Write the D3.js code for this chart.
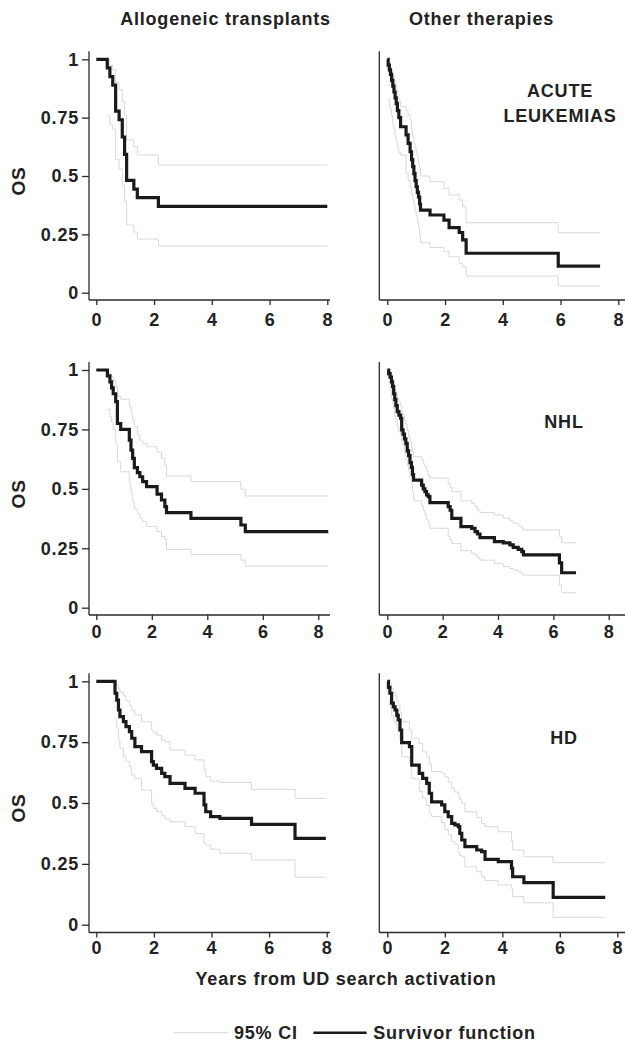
<!DOCTYPE html>
<html>
<head>
<meta charset="utf-8">
<script src="https://cdnjs.cloudflare.com/ajax/libs/d3/7.8.5/d3.min.js"></script>
<style>
    body { margin: 0; background: #ffffff; }
    text { font-family: "Liberation Sans", Arial, sans-serif; font-weight: bold; fill: #222222; letter-spacing: 0.8px; }
</style>
</head>
<body>
<div id="chart"></div>
<script>
// Kaplan-Meier steps (years, OS)
// acute leukemias - allogeneic transplants
var acuteAlloTime = [0, 0.38, 0.47, 0.57, 0.67, 0.79, 0.9, 0.98, 1.05, 1.3, 1.42, 2.15];
var acuteAlloSurv = [1, 0.963, 0.926, 0.889, 0.778, 0.741, 0.667, 0.593, 0.481, 0.444, 0.407, 0.37];
var acuteAlloLow  = [null, 0.76, 0.72, 0.70, 0.57, 0.53, 0.46, 0.39, 0.29, 0.26, 0.23, 0.20];
var acuteAlloHigh = [null, 0.995, 0.975, 0.955, 0.90, 0.87, 0.82, 0.76, 0.654, 0.626, 0.59, 0.547];
var acuteAlloEnd = 8.0;

// acute leukemias - other therapies
var acuteOtherTime = [0, 0.03, 0.07, 0.11, 0.15, 0.19, 0.23, 0.27, 0.31, 0.35, 0.40, 0.46, 0.65, 0.72, 0.79, 0.84, 0.88, 0.92, 0.96, 1.0, 1.04, 1.08, 1.12, 1.15, 1.48, 1.96, 2.14, 2.49, 2.61, 2.73, 5.92];
var acuteOtherSurv = [1, 0.975, 0.955, 0.935, 0.91, 0.885, 0.86, 0.835, 0.81, 0.78, 0.75, 0.711, 0.676, 0.64, 0.604, 0.57, 0.54, 0.51, 0.48, 0.454, 0.43, 0.41, 0.38, 0.354, 0.333, 0.311, 0.279, 0.258, 0.226, 0.169, 0.114];
var acuteOtherLow  = [null, 0.833, 0.80, 0.78, 0.76, 0.72, 0.70, 0.67, 0.65, 0.62, 0.60, 0.59, 0.511, 0.48, 0.454, 0.42, 0.40, 0.38, 0.35, 0.33, 0.30, 0.283, 0.25, 0.214, 0.194, 0.176, 0.154, 0.126, 0.111, 0.071, 0.029];
var acuteOtherHigh = [null, 0.995, 0.98, 0.965, 0.95, 0.93, 0.91, 0.89, 0.87, 0.85, 0.82, 0.797, 0.78, 0.761, 0.74, 0.70, 0.67, 0.64, 0.62, 0.60, 0.58, 0.554, 0.53, 0.50, 0.476, 0.447, 0.419, 0.397, 0.369, 0.30, 0.257];
var acuteOtherEnd = 7.37;

// NHL - allogeneic transplants
var nhlAlloTime = [0, 0.4, 0.49, 0.55, 0.61, 0.7, 0.76, 0.88, 1.19, 1.25, 1.31, 1.37, 1.48, 1.57, 1.67, 1.81, 2.19, 2.35, 2.47, 2.53, 3.41, 5.21, 5.37];
var nhlAlloSurv = [1, 0.975, 0.95, 0.925, 0.90, 0.867, 0.775, 0.75, 0.705, 0.663, 0.628, 0.589, 0.568, 0.551, 0.53, 0.509, 0.478, 0.453, 0.425, 0.40, 0.376, 0.348, 0.32];
var nhlAlloLow  = [null, 0.834, 0.804, 0.78, 0.75, 0.691, 0.614, 0.572, 0.523, 0.48, 0.446, 0.418, 0.397, 0.375, 0.362, 0.341, 0.32, 0.30, 0.288, 0.245, 0.224, 0.20, 0.175];
var nhlAlloHigh = [null, 0.995, 0.985, 0.97, 0.955, 0.93, 0.89, 0.877, 0.846, 0.82, 0.79, 0.762, 0.727, 0.705, 0.69, 0.677, 0.654, 0.628, 0.60, 0.554, 0.53, 0.498, 0.47];
var nhlAlloEnd = 8.36;

// NHL - other therapies
var nhlOtherTime = [0, 0.05, 0.1, 0.15, 0.19, 0.23, 0.27, 0.31, 0.36, 0.42, 0.48, 0.52, 0.57, 0.62, 0.67, 0.72, 0.77, 0.82, 0.87, 0.91, 0.95, 1.24, 1.3, 1.36, 1.42, 1.48, 1.54, 2.2, 2.27, 2.33, 2.66, 3.05, 3.17, 3.26, 3.35, 3.87, 4.19, 4.43, 4.55, 4.73, 4.86, 4.92, 6.22, 6.3];
var nhlOtherSurv = [1, 0.985, 0.97, 0.95, 0.93, 0.90, 0.875, 0.85, 0.825, 0.81, 0.797, 0.748, 0.73, 0.71, 0.69, 0.66, 0.64, 0.61, 0.59, 0.56, 0.537, 0.516, 0.50, 0.488, 0.475, 0.467, 0.442, 0.425, 0.41, 0.376, 0.341, 0.334, 0.32, 0.31, 0.295, 0.278, 0.273, 0.264, 0.254, 0.245, 0.236, 0.222, 0.189, 0.147];
var nhlOtherLow  = [null, 0.95, 0.916, 0.88, 0.86, 0.84, 0.81, 0.79, 0.76, 0.74, 0.725, 0.70, 0.68, 0.65, 0.63, 0.60, 0.58, 0.55, 0.52, 0.49, 0.45, 0.43, 0.41, 0.39, 0.37, 0.355, 0.334, 0.30, 0.285, 0.27, 0.24, 0.229, 0.22, 0.21, 0.20, 0.187, 0.173, 0.165, 0.158, 0.15, 0.142, 0.137, 0.095, 0.063];
var nhlOtherHigh = [null, 0.998, 0.99, 0.975, 0.96, 0.94, 0.92, 0.90, 0.88, 0.865, 0.85, 0.825, 0.81, 0.79, 0.77, 0.745, 0.72, 0.70, 0.675, 0.655, 0.635, 0.621, 0.605, 0.593, 0.575, 0.558, 0.545, 0.523, 0.505, 0.488, 0.45, 0.439, 0.425, 0.41, 0.40, 0.39, 0.376, 0.365, 0.355, 0.345, 0.335, 0.327, 0.30, 0.273];
var nhlOtherEnd = 6.82;

// HD - allogeneic transplants
var hdAlloTime = [0, 0.65, 0.71, 0.77, 0.82, 0.94, 1.03, 1.15, 1.23, 1.34, 1.57, 1.92, 1.98, 2.09, 2.27, 2.38, 2.56, 3.08, 3.43, 3.74, 3.8, 3.97, 4.29, 5.39, 6.9];
var hdAlloSurv = [1, 0.951, 0.923, 0.882, 0.855, 0.834, 0.814, 0.793, 0.766, 0.732, 0.711, 0.67, 0.656, 0.642, 0.622, 0.608, 0.581, 0.56, 0.54, 0.492, 0.464, 0.444, 0.437, 0.412, 0.355];
var hdAlloLow  = [null, 0.841, 0.807, 0.76, 0.725, 0.69, 0.67, 0.649, 0.615, 0.60, 0.553, 0.499, 0.478, 0.465, 0.45, 0.435, 0.423, 0.403, 0.375, 0.334, 0.327, 0.31, 0.293, 0.266, 0.195];
var hdAlloHigh = [null, 0.995, 0.985, 0.97, 0.955, 0.94, 0.92, 0.90, 0.88, 0.862, 0.834, 0.80, 0.79, 0.779, 0.76, 0.752, 0.718, 0.697, 0.677, 0.636, 0.608, 0.59, 0.584, 0.556, 0.519];
var hdAlloEnd = 7.97;

// HD - other therapies
var hdOtherTime = [0, 0.04, 0.09, 0.15, 0.21, 0.27, 0.33, 0.38, 0.44, 0.5, 0.77, 0.85, 1.11, 1.23, 1.37, 1.46, 1.54, 1.89, 2.0, 2.12, 2.24, 2.35, 2.47, 2.52, 2.59, 2.7, 3.11, 3.28, 3.4, 3.86, 4.32, 4.36, 4.75, 5.77];
var hdOtherSurv = [1, 0.975, 0.951, 0.91, 0.895, 0.882, 0.86, 0.841, 0.80, 0.748, 0.732, 0.656, 0.622, 0.601, 0.581, 0.54, 0.505, 0.492, 0.464, 0.444, 0.416, 0.41, 0.403, 0.375, 0.348, 0.321, 0.307, 0.30, 0.268, 0.259, 0.232, 0.197, 0.173, 0.112];
var hdOtherLow  = [null, 0.92, 0.896, 0.86, 0.84, 0.827, 0.81, 0.793, 0.759, 0.69, 0.67, 0.60, 0.547, 0.52, 0.49, 0.458, 0.444, 0.42, 0.39, 0.37, 0.341, 0.33, 0.296, 0.285, 0.279, 0.238, 0.218, 0.197, 0.181, 0.163, 0.149, 0.115, 0.09, 0.03];
var hdOtherHigh = [null, 0.998, 0.99, 0.97, 0.955, 0.94, 0.92, 0.90, 0.87, 0.834, 0.80, 0.766, 0.745, 0.71, 0.69, 0.66, 0.629, 0.622, 0.608, 0.585, 0.56, 0.545, 0.533, 0.515, 0.499, 0.464, 0.44, 0.416, 0.403, 0.382, 0.345, 0.307, 0.279, 0.255];
var hdOtherEnd = 7.58;

var yTicks = [0, 0.25, 0.5, 0.75, 1];
var xTicks = [0, 2, 4, 6, 8];
var columnTitles = ["Allogeneic transplants", "Other therapies"];
var diseaseLabels = [["ACUTE", "LEUKEMIAS"], ["NHL"], ["HD"]];
var legendLabels = ["95% CI", "Survivor function"];

var panels = [
    {row: 0, col: 0, time: acuteAlloTime, surv: acuteAlloSurv, low: acuteAlloLow, high: acuteAlloHigh, end: acuteAlloEnd},
    {row: 0, col: 1, time: acuteOtherTime, surv: acuteOtherSurv, low: acuteOtherLow, high: acuteOtherHigh, end: acuteOtherEnd},
    {row: 1, col: 0, time: nhlAlloTime, surv: nhlAlloSurv, low: nhlAlloLow, high: nhlAlloHigh, end: nhlAlloEnd},
    {row: 1, col: 1, time: nhlOtherTime, surv: nhlOtherSurv, low: nhlOtherLow, high: nhlOtherHigh, end: nhlOtherEnd},
    {row: 2, col: 0, time: hdAlloTime, surv: hdAlloSurv, low: hdAlloLow, high: hdAlloHigh, end: hdAlloEnd},
    {row: 2, col: 1, time: hdOtherTime, surv: hdOtherSurv, low: hdOtherLow, high: hdOtherHigh, end: hdOtherEnd}
];

// layout of the 3x2 grid
var width = 625, height = 1042;
var rowBox = [
    {top: 59.3, bottom: 292.7, axis: 300, labelOff: 26},
    {top: 370, bottom: 607.7, axis: 615, labelOff: 23},
    {top: 681.3, bottom: 924.7, axis: 932.5, labelOff: 21}
];
var colBox = [
    {axis: 89, zero: 96.3, lineEnd: 330},
    {axis: 379.3, zero: 387.3, lineEnd: 625}
];
var eightAt = [[327.3, 618.3], [318.3, 608.7], [326.7, 617.3]];

var ciColor = "#d9d9d9";
var survColor = "#1a1a1a";
var axisColor = "#2a2a2a";
var fontPx = 18;

var svg = d3.select("#chart").append("svg")
    .attr("width", width)
    .attr("height", height);

function toPoints(time, vals, end) {
    var pts = time.map(function (t, i) {
        return {t: t, v: vals[i]};
    });
    pts.push({t: end, v: vals[vals.length - 1]});
    return pts;
}

function drawPanel(p) {
    var r = rowBox[p.row], c = colBox[p.col];

    var x = d3.scaleLinear()
        .domain([0, 8])
        .range([c.zero, eightAt[p.row][p.col]]);
    var y = d3.scaleLinear()
        .domain([0, 1])
        .range([r.bottom, r.top]);

    var g = svg.append("g");

    //axis lines
    g.append("line")
        .attr("x1", c.axis).attr("x2", c.axis)
        .attr("y1", r.top - 8).attr("y2", r.axis)
        .style("stroke", axisColor).style("stroke-width", 1.3);
    g.append("line")
        .attr("x1", c.axis).attr("x2", c.lineEnd)
        .attr("y1", r.axis).attr("y2", r.axis)
        .style("stroke", axisColor).style("stroke-width", 1.3);

    var xAxis = d3.axisBottom(x)
        .tickValues(xTicks)
        .tickSize(5)
        .tickPadding(r.labelOff - 5 - 0.71 * fontPx)
        .tickFormat(d3.format("d"));
    var gx = g.append("g")
        .attr("transform", "translate(0," + r.axis + ")")
        .call(xAxis);
    gx.select(".domain").remove();
    gx.selectAll("line").style("stroke", axisColor).style("stroke-width", 1.3);
    gx.selectAll("text")
        .attr("font-family", null)
        .style("font-size", fontPx + "px")
        .style("fill", "#222");

    if (p.col === 0) {
        var yAxis = d3.axisLeft(y)
            .tickValues(yTicks)
            .tickSize(7)
            .tickPadding(3)
            .tickFormat(function (d) { return String(d); });
        var gy = g.append("g")
            .attr("transform", "translate(" + c.axis + ",0)")
            .call(yAxis);
        gy.select(".domain").remove();
        gy.selectAll("line").style("stroke", axisColor).style("stroke-width", 1.3);
        gy.selectAll("text")
            .style("font-size", fontPx + "px")
            .style("fill", "#222");

        g.append("text")
            .attr("transform", "translate(25," + ((r.top + r.bottom) / 2 + 5) + ") rotate(-90)")
            .attr("text-anchor", "middle")
            .style("font-size", "19px")
            .text("OS");
    }

    var line = d3.line()
        .defined(function (d) { return d.v !== null; })
        .x(function (d) { return x(d.t); })
        .y(function (d) { return y(d.v); })
        .curve(d3.curveStepAfter);

    // confidence band edges
    [p.low, p.high].forEach(function (vals) {
        g.append("path")
            .datum(toPoints(p.time, vals, p.end))
            .attr("d", line)
            .style("fill", "none")
            .style("stroke", ciColor)
            .style("stroke-width", 1);
    });

    g.append("path")
        .datum(toPoints(p.time, p.surv, p.end))
        .attr("d", line)
        .style("fill", "none")
        .style("stroke", survColor)
        .style("stroke-width", 3.2);
}

panels.forEach(drawPanel);

// column titles
svg.selectAll(".coltitle")
    .data(columnTitles)
    .enter()
    .append("text")
    .attr("class", "coltitle")
    .attr("x", function (d, i) { return i === 0 ? 225.5 : 481.5; })
    .attr("y", 25)
    .attr("text-anchor", "middle")
    .style("font-size", fontPx + "px")
    .text(function (d) { return d; });

// disease labels on the right panels
var labelY = [97, 428, 744];
diseaseLabels.forEach(function (lines, row) {
    lines.forEach(function (txt, k) {
        svg.append("text")
            .attr("x", row === 0 ? 560 : 564)
            .attr("y", labelY[row] + k * 25)
            .attr("text-anchor", "middle")
            .style("font-size", fontPx + "px")
            .text(txt);
    });
});

svg.append("text")
    .attr("x", 346)
    .attr("y", 985)
    .attr("text-anchor", "middle")
    .style("font-size", fontPx + "px")
    .text("Years from UD search activation");

//legend
svg.append("line")
    .attr("x1", 173.3).attr("x2", 228.3)
    .attr("y1", 1032.7).attr("y2", 1032.7)
    .style("stroke", ciColor).style("stroke-width", 1);
svg.append("text")
    .attr("x", 234).attr("y", 1039)
    .style("font-size", fontPx + "px")
    .text(legendLabels[0]);
svg.append("line")
    .attr("x1", 313.3).attr("x2", 366.7)
    .attr("y1", 1032.7).attr("y2", 1032.7)
    .style("stroke", survColor).style("stroke-width", 2.6);
svg.append("text")
    .attr("x", 373.3).attr("y", 1039)
    .style("font-size", fontPx + "px")
    .text(legendLabels[1]);
</script>
</body>
</html>
